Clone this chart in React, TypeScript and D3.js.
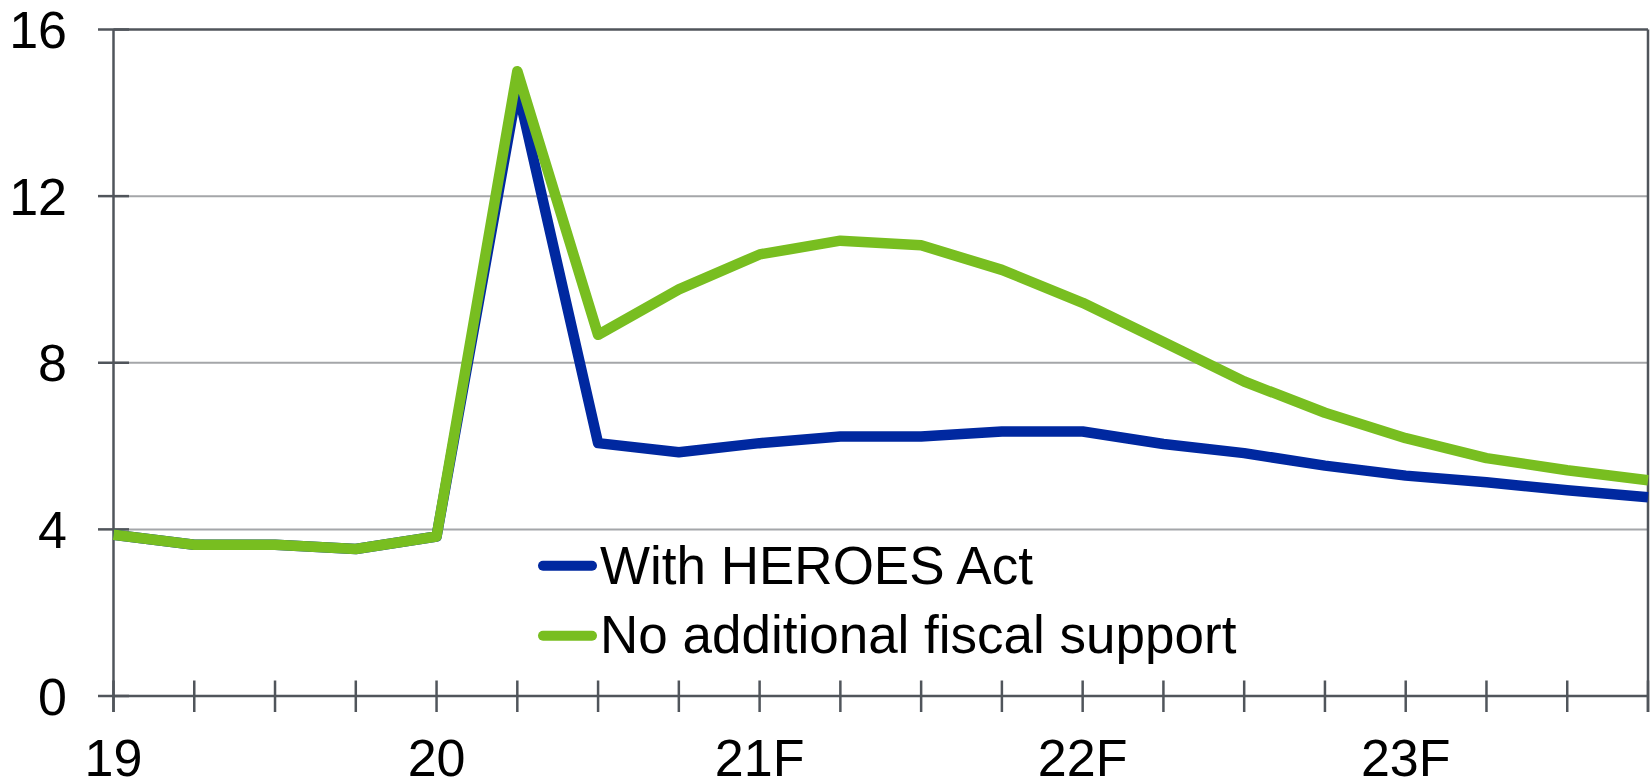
import React from "react";
import * as d3 from "d3";

const quarters = [
  "19Q1", "19Q2", "19Q3", "19Q4",
  "20Q1", "20Q2", "20Q3", "20Q4",
  "21Q1", "21Q2", "21Q3", "21Q4",
  "22Q1", "22Q2", "22Q3", "22Q4",
  "23Q1", "23Q2", "23Q3", "23Q4",
];
const xTickLabels: Record<string, string> = {
  "19Q1": "19",
  "20Q1": "20",
  "21Q1": "21F",
  "22Q1": "22F",
  "23Q1": "23F",
};
const withHeroes = [
  3.87, 3.63, 3.63, 3.53, 3.83, 14.6, 6.07, 5.85, 6.07, 6.23,
  6.23, 6.35, 6.35, 6.05, 5.83, 5.53, 5.29, 5.13, 4.94, 4.77,
];
const noSupport = [
  3.87, 3.63, 3.63, 3.53, 3.83, 15.0, 8.67, 9.76, 10.6, 10.93,
  10.82, 10.23, 9.44, 8.5, 7.55, 6.8, 6.19, 5.71, 5.42, 5.18,
];
const yTicks = [0, 4, 8, 12, 16];
const seriesNames = ["With HEROES Act", "No additional fiscal support"];

const W = 1650;
const H = 781;
const left = 113.5;
const right = 1648;
const top = 29.5;
const bottom = 696;

const AXIS = "#50555b";
const GRID = "#a4a6a9";
const BLUE = "#0028a0";
const GREEN = "#78be20";
const FONT = "'Liberation Sans', Arial, sans-serif";

export default function App() {
  const x = d3.scalePoint<string>().domain(quarters).range([left, right]);
  const y = d3.scaleLinear().domain([0, 16]).range([bottom, top]);

  const line = d3
    .line<number>()
    .x((_, i) => x(quarters[i]) as number)
    .y((d) => y(d));

  const series = [
    { name: seriesNames[0], values: withHeroes, color: BLUE },
    { name: seriesNames[1], values: noSupport, color: GREEN },
  ];

  return (
    <svg
      width={W}
      height={H}
      style={{ position: "absolute", left: 0, top: 0, background: "#fff" }}
      fontFamily={FONT}
    >
      <rect x={0} y={0} width={W} height={H} fill="#fff" />
      {/* gridlines */}
      {yTicks
        .filter((t) => t > 0 && t < 16)
        .map((t) => (
          <line key={"g" + t} x1={left} x2={right} y1={y(t)} y2={y(t)} stroke={GRID} strokeWidth={2} />
        ))}
      {/* top border */}
      <line x1={left} x2={right} y1={y(16)} y2={y(16)} stroke={AXIS} strokeWidth={2.5} />
      {/* right border */}
      <line x1={right} x2={right} y1={y(16)} y2={bottom + 16} stroke={AXIS} strokeWidth={2.5} />
      {/* y axis */}
      <line x1={left} x2={left} y1={y(16)} y2={bottom + 16} stroke={AXIS} strokeWidth={2.5} />
      {yTicks.map((t) => (
        <g key={"yt" + t}>
          <line x1={left - 15.5} x2={left + 15.5} y1={y(t)} y2={y(t)} stroke={AXIS} strokeWidth={2.5} />
          <text x={67} y={y(t)} dy="0.36em" textAnchor="end" fontSize={52} fill="#000">
            {t}
          </text>
        </g>
      ))}
      {/* x axis */}
      <line x1={left} x2={right} y1={bottom} y2={bottom} stroke={AXIS} strokeWidth={2.5} />
      {quarters.map((q) => (
        <g key={"xt" + q}>
          <line
            x1={x(q) as number}
            x2={x(q) as number}
            y1={bottom - 15.5}
            y2={bottom + 16}
            stroke={AXIS}
            strokeWidth={2.5}
          />
          {xTickLabels[q] && (
            <text x={x(q) as number} y={775.5} textAnchor="middle" fontSize={52} fill="#000">
              {xTickLabels[q]}
            </text>
          )}
        </g>
      ))}
      {/* series */}
      {series.map((s) => (
        <path
          key={s.name}
          d={line(s.values) as string}
          fill="none"
          stroke={s.color}
          strokeWidth={10.5}
          strokeLinejoin="round"
          strokeLinecap="butt"
        />
      ))}
      {/* legend */}
      {series.map((s, i) => {
        const ly = 565.7 + i * 70;
        return (
          <g key={"lg" + s.name}>
            <line x1={543} x2={592} y1={ly} y2={ly} stroke={s.color} strokeWidth={10} strokeLinecap="round" />
            <text x={600} y={583.5 + i * 69.4} fontSize={53} fill="#000">
              {s.name}
            </text>
          </g>
        );
      })}
    </svg>
  );
}
